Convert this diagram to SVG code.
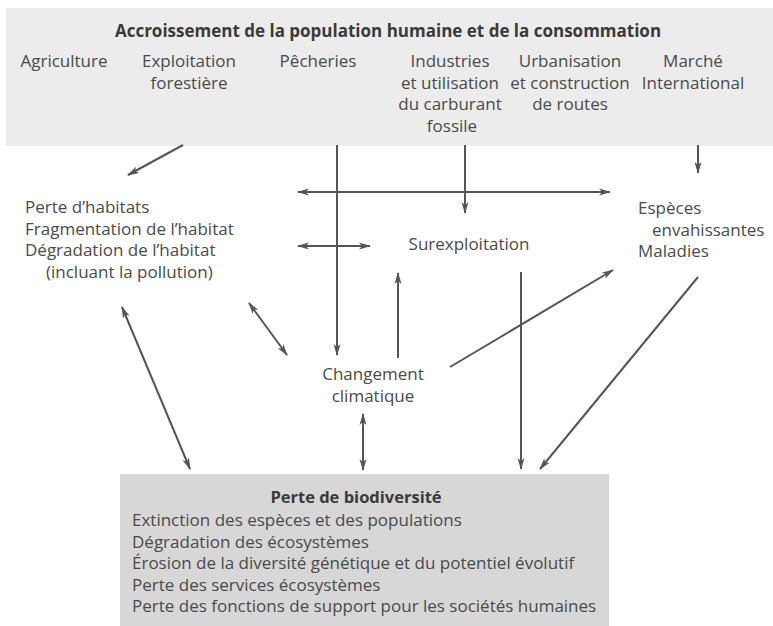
<svg xmlns="http://www.w3.org/2000/svg" width="773" height="626" viewBox="0 0 773 626">
<style>
  text { font-family: "Open Sans", "Liberation Sans", sans-serif; font-size: 17px; fill: #4a4a4a; }
  .b { font-weight: bold; fill: #3a3a3a; }
  .c { text-anchor: middle; }
  .ln { stroke: #555; stroke-width: 2; fill: none; }
  .one { marker-end: url(#ah); }
  .two { marker-start: url(#ah); marker-end: url(#ah); }
</style>
<defs>
  <marker id="ah" viewBox="0 0 12 8" refX="11" refY="4" markerWidth="12" markerHeight="8" markerUnits="userSpaceOnUse" orient="auto-start-reverse">
    <path d="M0,0.5 L12,4 L0,7.5 L3,4 z" fill="#555"/>
  </marker>
</defs>
<rect x="0" y="0" width="773" height="626" fill="#ffffff"/>
<rect x="6" y="8" width="767" height="138" fill="#ececec"/>
<rect x="120" y="474" width="489" height="152" fill="#d7d7d7"/>

<g id="top">
  <text class="b c" x="388" y="37">Accroissement de la population humaine et de la consommation</text>
</g>
<g id="agriculture"><text class="c" x="64" y="67">Agriculture</text></g>
<g id="exploitation"><text class="c" x="189" y="67">Exploitation</text><text class="c" x="189" y="88.5">forestière</text></g>
<g id="pecheries"><text class="c" x="318" y="67">Pêcheries</text></g>
<g id="industries"><text class="c" x="450" y="67">Industries</text><text class="c" x="450" y="88.5">et utilisation</text><text class="c" x="450" y="110">du carburant</text><text class="c" x="452" y="131.5">fossile</text></g>
<g id="urbanisation"><text class="c" x="570" y="67">Urbanisation</text><text class="c" x="570" y="88.5">et construction</text><text class="c" x="570" y="110">de routes</text></g>
<g id="marche"><text class="c" x="693" y="67">Marché</text><text class="c" x="693" y="88.5">International</text></g>

<g id="habitat">
  <text x="25" y="213">Perte d’habitats</text>
  <text x="25" y="234.5">Fragmentation de l’habitat</text>
  <text x="25" y="256">Dégradation de l’habitat</text>
  <text x="46" y="277.5">(incluant la pollution)</text>
</g>
<g id="surexploitation"><text class="c" x="469" y="250">Surexploitation</text></g>
<g id="especes">
  <text x="638" y="214">Espèces</text>
  <text x="652" y="235.5">envahissantes</text>
  <text x="638" y="257">Maladies</text>
</g>
<g id="climat">
  <text class="c" x="373" y="380">Changement</text>
  <text class="c" x="373" y="402">climatique</text>
</g>
<g id="biodiversite">
  <text class="b c" x="356" y="503" style="font-size:16.5px">Perte de biodiversité</text>
  <text x="132" y="526">Extinction des espèces et des populations</text>
  <text x="132" y="547.5">Dégradation des écosystèmes</text>
  <text x="132" y="569">Érosion de la diversité génétique et du potentiel évolutif</text>
  <text x="132" y="590.5">Perte des services écosystèmes</text>
  <text x="132" y="612">Perte des fonctions de support pour les sociétés humaines</text>
</g>

<g id="connectors">
  <line class="ln one" x1="183" y1="145" x2="128" y2="175"/>
  <line class="ln one" x1="337" y1="145" x2="337" y2="355"/>
  <line class="ln one" x1="465" y1="145" x2="465" y2="213"/>
  <line class="ln one" x1="698" y1="145" x2="698" y2="173"/>
  <line class="ln two" x1="298" y1="192" x2="610" y2="192"/>
  <line class="ln two" x1="298" y1="246" x2="370" y2="246"/>
  <line class="ln one" x1="398" y1="358" x2="398" y2="273"/>
  <line class="ln two" x1="249" y1="303" x2="287" y2="355"/>
  <line class="ln one" x1="450" y1="367" x2="613" y2="270"/>
  <line class="ln one" x1="521" y1="272" x2="521" y2="469"/>
  <line class="ln one" x1="698" y1="277" x2="540" y2="469"/>
  <line class="ln two" x1="122" y1="307" x2="190" y2="469"/>
  <line class="ln two" x1="363" y1="414" x2="363" y2="470"/>
</g>
</svg>
